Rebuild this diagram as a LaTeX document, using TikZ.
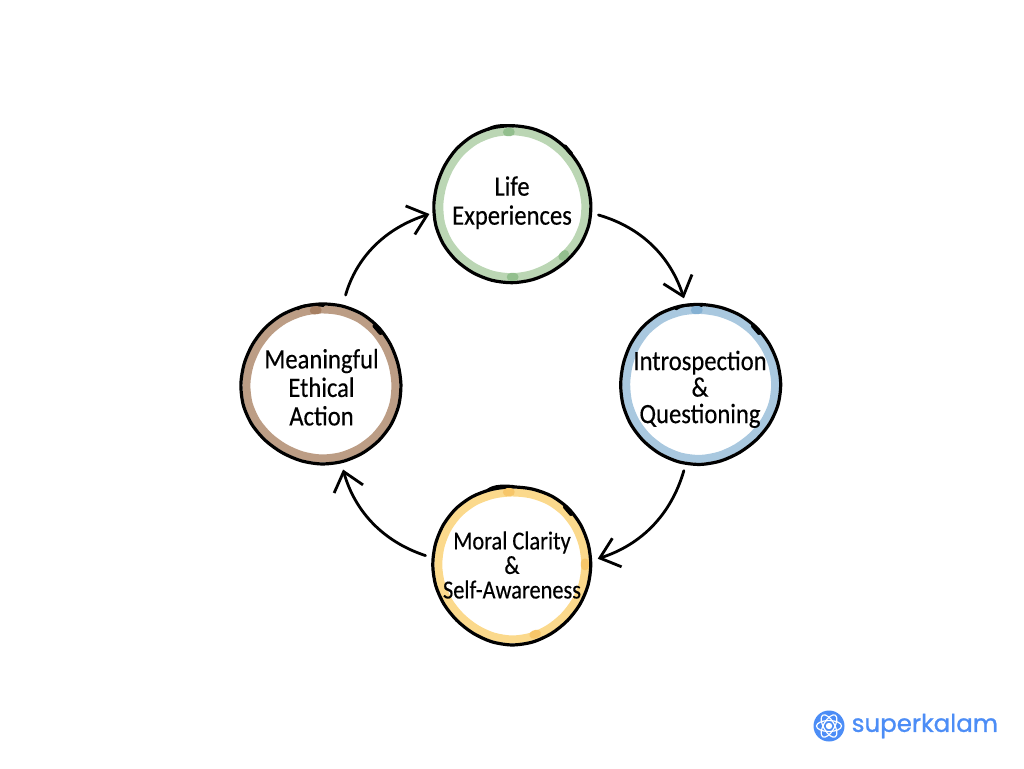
\documentclass[tikz,border=0pt]{standalone}
\usepackage{fontspec}
\setmainfont[FakeBold=0.35,FakeStretch=0.88]{Carlito}
\newfontfamily\tightfont[FakeBold=0.35,FakeStretch=0.86]{Carlito}
\newfontfamily\logofont[FakeBold=1.0]{Poppins}
\usetikzlibrary{arrows.meta}
\definecolor{gA}{HTML}{BBD6B4}\definecolor{gB}{HTML}{93BF8E}
\definecolor{bA}{HTML}{A9C8DF}\definecolor{bB}{HTML}{85B1D3}
\definecolor{yA}{HTML}{FBD98C}\definecolor{yB}{HTML}{F7C669}
\definecolor{nA}{HTML}{BC9D85}\definecolor{nB}{HTML}{A67F62}
\definecolor{logoblue}{HTML}{4C8DF6}
\tikzset{
  stage/.style={circle,minimum size=158pt,inner sep=-10pt,align=center,text=black,font=\fontsize{28}{29}\selectfont},
  flow/.style={line width=2.8pt,line cap=round,-{Straight Barb[length=18pt,width=30pt,line width=2.8pt]}},
  outline/.style={line width=3.2pt,black,line join=round},
  ringline/.style={line width=8pt},
  blob/.style={line width=8pt,line cap=round},
  atom/.style={white,line width=1.2pt}
}
% centre, radius, phase, ring colour
\newcommand{\handring}[4]{%
  \begin{scope}[shift={(#1)}]
    \draw[ringline,#4] plot[smooth cycle,samples=24,domain=0:345] (\x:{#2-5.5+0.7*sin(3*\x+#3)+0.3*sin(5*\x)});
    \draw[outline] plot[smooth cycle,samples=24,domain=0:345] (\x:{#2+0.7*sin(3*\x+#3)+0.3*sin(5*\x)});
    \draw[line width=2.8pt,line cap=round] (-24,-75) .. controls (-18,-79.5) and (-8,-79.5) .. (2,-78.5);
    \draw[line width=4pt,line cap=round] (53,-58) -- (59,-51);
  \end{scope}}
\newcommand{\ringblob}[4]{% centre, radius, angle, colour
  \begin{scope}[shift={(#1)}]
    \draw[blob,#4] (#3:{#2-6}) arc[start angle=#3,delta angle=3,radius={#2-6}];
  \end{scope}}
\begin{document}
\begin{tikzpicture}[x=1pt,y=-1pt]
\useasboundingbox (0,0) rectangle (1024,768);
\coordinate (cl) at (512,204.5);
\coordinate (ci) at (700,384);
\coordinate (cm) at (512,565);
\coordinate (ca) at (321.5,384);
\handring{cl}{78.5}{30}{gA}
\ringblob{cl}{78.5}{-94}{gB}\ringblob{cl}{78.5}{88}{gB}\ringblob{cl}{78.5}{43}{gB}
\handring{ci}{80}{100}{bA}
\ringblob{ci}{80}{-94}{bB}
\handring{cm}{79}{200}{yA}
\ringblob{cm}{79}{-94}{yB}\ringblob{cm}{79}{70}{yB}\ringblob{cm}{79}{-2}{yB}
\handring{ca}{80}{300}{nA}
\ringblob{ca}{80}{-96}{nB}
\node[stage] (life) at (cl) {Life\\Experiences\rule[-8pt]{0pt}{8pt}};
\node[stage,minimum size=160pt,font=\fontsize{28}{26.5}\selectfont] (intro) at (ci) {\rule{0pt}{30pt}Introspection\\\&\\Questioning};
\node[stage,font=\tightfont\fontsize{26}{24.5}\selectfont] (moral) at (cm) {Moral Clarity\\\&\\Self-Awareness};
\node[stage,minimum size=160pt,font=\fontsize{28}{28.5}\selectfont] (action) at (ca) {\rule{0pt}{26pt}Meaningful\\Ethical\\Action};
\draw[flow,shorten <=8pt,shorten >=7pt] (life.-6) to[bend left=28] (intro.100);
\draw[flow,shorten <=8pt,shorten >=7pt] (intro.-100) to[bend left=28] (moral.3);
\draw[flow,shorten <=8pt,shorten >=8pt] (moral.175) to[bend left=28] (action.-76);
\draw[flow,shorten <=12pt,shorten >=4pt] (action.75) to[bend left=28] (life.186);
% logo
\node[circle,fill=logoblue,minimum size=31pt,inner sep=0pt] (mark) at (829,726) {};
\begin{scope}[shift={(mark)}]
  \draw[atom] ellipse[x radius=12.5,y radius=5.5];
  \draw[atom,rotate=60] ellipse[x radius=12.5,y radius=5.5];
  \draw[atom,rotate=-60] ellipse[x radius=12.5,y radius=5.5];
  \fill[white] circle[radius=3.2];
\end{scope}
\node[anchor=west,inner sep=0pt,text=logoblue,font=\logofont\fontsize{24.5}{28}\selectfont] (brand) at (851.5,726) {superkalam};
\end{tikzpicture}
\end{document}
